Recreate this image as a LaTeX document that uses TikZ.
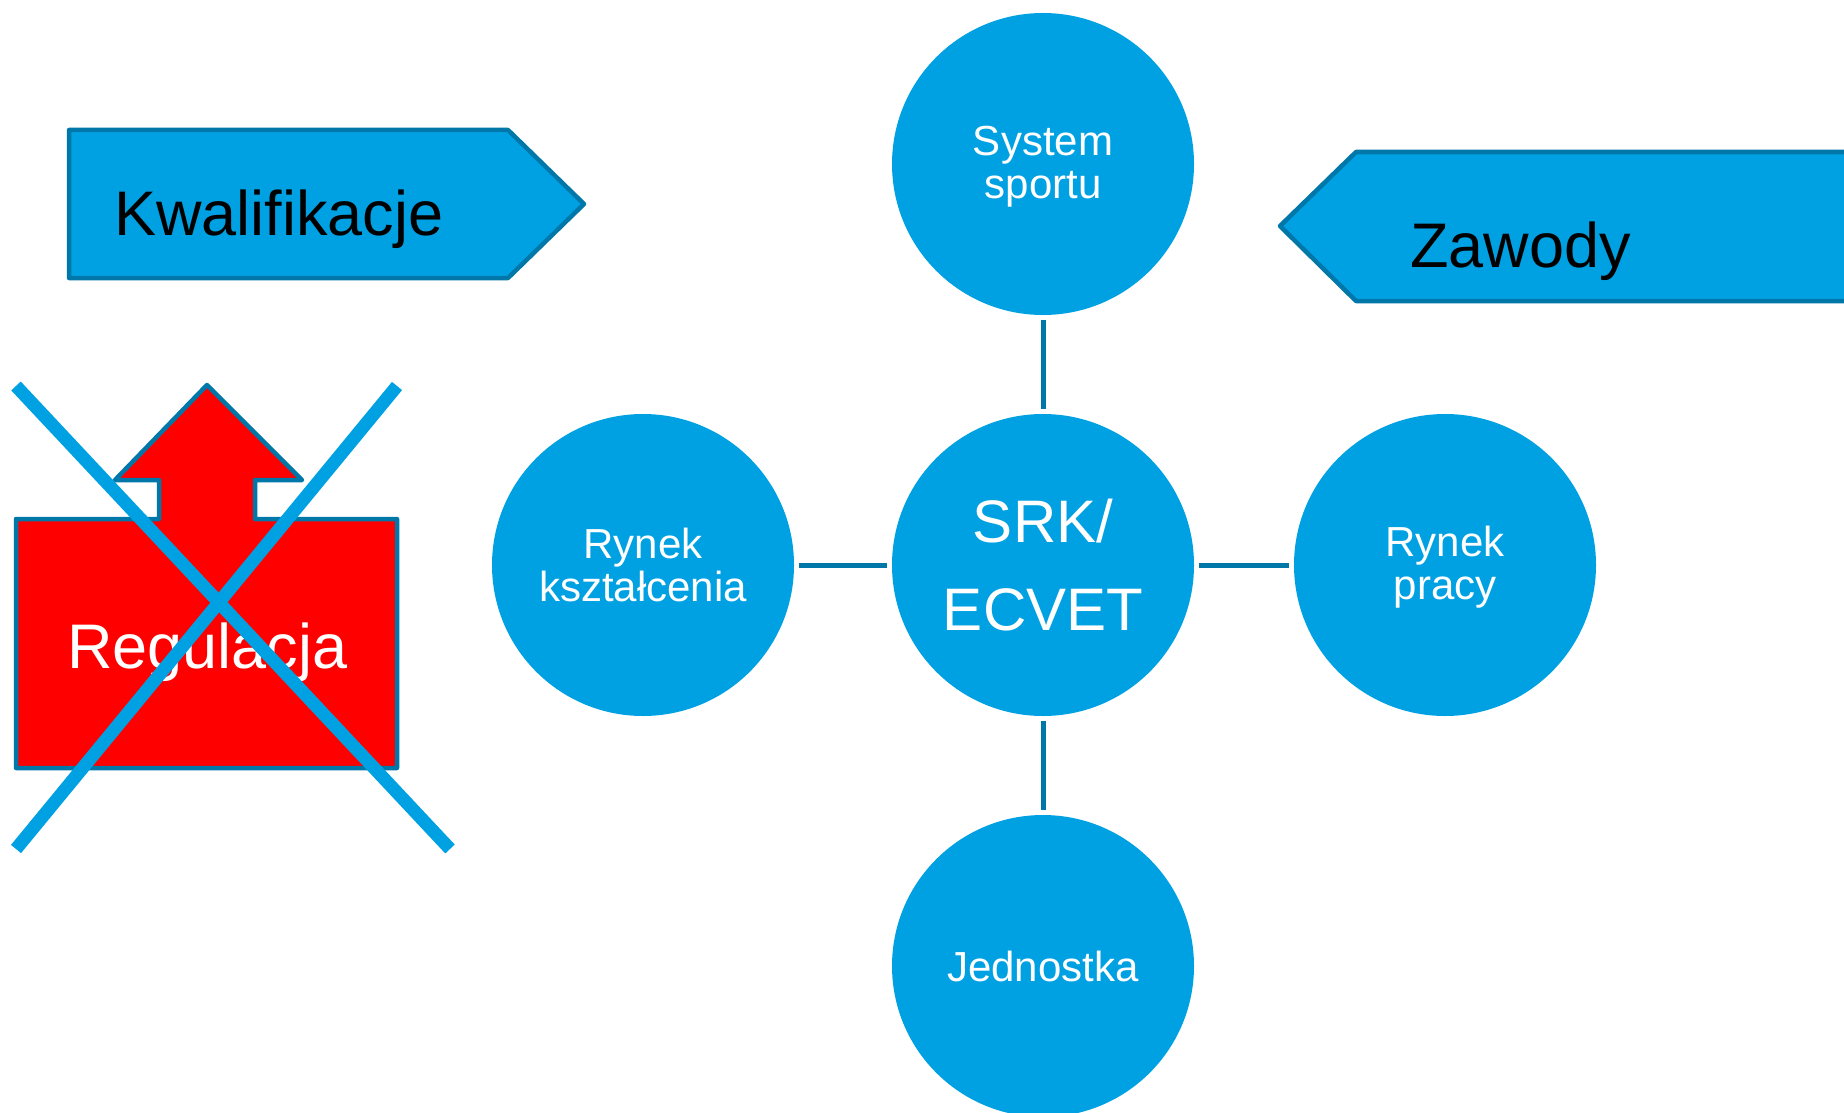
\documentclass[tikz,border=0pt]{standalone}
\usepackage{fontspec}
\setmainfont{Liberation Sans}
\definecolor{cfill}{HTML}{00A1E3}
\definecolor{cline}{HTML}{0077A9}
\definecolor{cred}{HTML}{FF0000}
\tikzset{
  circ/.style={circle, fill=cfill, minimum size=302pt, inner sep=0pt, align=center, text=white},
  smalltxt/.style={font=\fontsize{42}{43}\selectfont},
  bigtxt/.style={font=\fontsize{60}{88}\selectfont},
  conn/.style={draw=cline, line width=5pt, shorten <=5pt, shorten >=5pt},
  banner/.style={fill=cfill, draw=cline, line width=4.5pt, line join=round},
  labeltxt/.style={font=\fontsize{63}{70}\selectfont, inner sep=0pt, anchor=base west},
  crossline/.style={draw=cfill, line width=13pt}
}
\begin{document}
\begin{tikzpicture}[x=1pt,y=-1pt]
\useasboundingbox (0,0) rectangle (1844,1113);
\clip (0,0) rectangle (1844,1113);

% Kwalifikacje banner
\draw[banner] (69,130) -- (508,130) -- (584,204) -- (508,278) -- (69,278) -- cycle;
\node[labeltxt] (kw) at (114,235) {Kwalifikacje};

% Zawody banner
\draw[banner] (1280,226) -- (1356,152) -- (1870,152) -- (1870,301) -- (1356,301) -- cycle;
\node[labeltxt] (za) at (1410,267) {Zawody};

% Regulacja shape
\draw[fill=cred, draw=cline, line width=4.5pt, line join=round]
  (16,519) -- (159,519) -- (159,480) -- (115,480) -- (207,385) -- (302,480)
  -- (255,480) -- (255,519) -- (397,519) -- (397,768) -- (16,768) -- cycle;
\node[labeltxt, text=white] (reg) at (67,668) {Regulacja};

% Cross
\coordinate (xa) at (16,386);
\coordinate (xb) at (450,849);
\coordinate (xc) at (397,386);
\coordinate (xd) at (16,849);
\draw[crossline] (xa) -- (xb);
\draw[crossline] (xc) -- (xd);

% Circles
\node[circ, smalltxt] (sys) at (1043,164) {};
\node[smalltxt, text=white, align=center, inner sep=0pt] (systxt) at ([yshift=-3pt]sys.center) {System\\sportu};
\node[circ, bigtxt] (ctr) at (1043,565) {SRK/\\ECVET};
\node[circ, smalltxt] (lft) at (643,565) {Rynek\\kształcenia};
\node[circ, smalltxt] (rgt) at (1445,565) {};
\node[smalltxt, text=white, align=center, inner sep=0pt] (rgttxt) at ([yshift=-2pt]rgt.center) {Rynek\\pracy};
\node[circ, smalltxt] (bot) at (1043,966) {Jednostka};

% Connectors
\draw[conn] (sys) -- (ctr);
\draw[conn] (ctr) -- (bot);
\draw[conn] (lft) -- (ctr);
\draw[conn] (ctr) -- (rgt);
\end{tikzpicture}
\end{document}
